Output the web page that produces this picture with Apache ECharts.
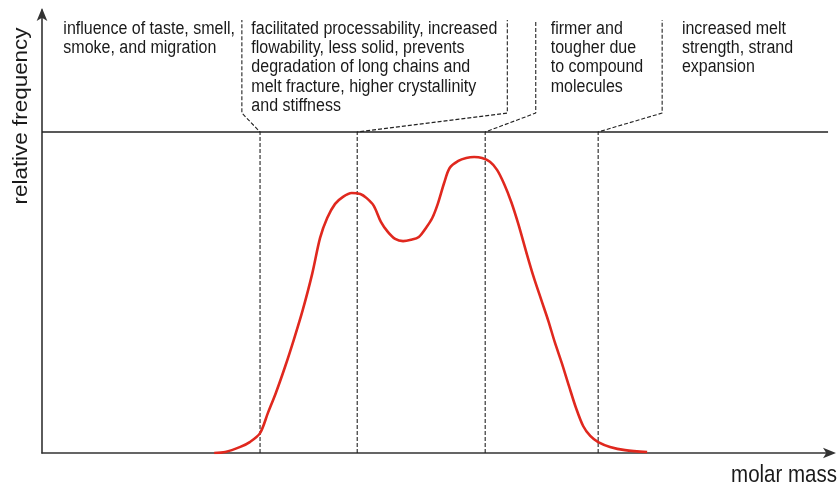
<!DOCTYPE html>
<html><head><meta charset="utf-8">
<script src="https://cdn.jsdelivr.net/npm/echarts@6/dist/echarts.min.js"></script>
<style>html,body{margin:0;padding:0;background:#fff}#c{width:839px;height:483px}</style>
</head><body><div id="c"></div>
<script>
// molar mass (arbitrary units 0-100) and relative frequency (top reference line = 100)
const molarMass = [21.8,23.2,25.1,26.3,27.6,28.6,29.6,30.8,31.9,33.0,34.2,35.2,36.1,37.1,38.1,39.2,40.3,41.1,42.0,42.9,43.8,44.7,45.7,46.7,47.7,48.6,49.4,50.1,50.9,51.6,52.7,53.7,54.7,55.7,56.7,57.6,58.5,59.4,60.3,61.3,62.2,63.2,64.1,64.9,65.8,66.7,67.6,68.5,69.4,70.4,71.9,73.8,76.6];
const frequency = [0.0,0.3,1.9,3.4,6.2,12.5,18.7,27.1,35.5,44.5,55.8,67.0,73.2,77.6,79.8,81.0,80.7,79.4,77.0,72.0,68.8,66.7,66.0,66.4,67.3,70.1,73.2,77.6,84.1,88.8,91.0,91.9,92.2,91.9,90.7,88.2,83.8,78.2,71.3,62.6,55.1,47.7,41.1,34.6,28.0,20.9,14.0,8.4,5.3,3.4,1.9,0.9,0.3];
// region boundaries on molar mass axis, and where their label dividers sit
const boundaries = [27.6,39.9,56.1,70.4];
const dividerX = [25.3,58.9,62.5,78.5];
const topLine = 100, dividerBend = 105.9, dividerTop = 134.9;
const labelX = [2.7,26.5,64.4,81.0];
const labelY = 135.2;
const labels = [
  "influence of taste, smell,\nsmoke, and migration",
  "facilitated processability, increased\nflowability, less solid, prevents\ndegradation of long chains and\nmelt fracture, higher crystallinity\nand stiffness",
  "firmer and\ntougher due\nto compound\nmolecules",
  "increased melt\nstrength, strand\nexpansion"
];
const xMax = 100, yMax = 138;

const chart = echarts.init(document.getElementById('c'), null, {renderer:'canvas'});
const FONT = 'Liberation Sans, Arial, sans-serif';
const TXT = '#1a1a1a';
const STRETCH = 1.15;
const series = [];
series.push({type:'line', data:[[0,topLine],[99.5,topLine]], symbol:'none', silent:true,
  lineStyle:{color:'#222', width:1.3}, z:2});
boundaries.forEach((b,i)=>{
  series.push({type:'line', symbol:'none', silent:true,
    data:[[b,0],[b,topLine],[dividerX[i],dividerBend],[dividerX[i],dividerTop]],
    lineStyle:{color:'#222', width:1.1, type:[4,2]}, z:2});
});
series.push({type:'line', data:molarMass.map((x,i)=>[x,frequency[i]]), smooth:0.3, symbol:'none',
  lineStyle:{color:'#e0281e', width:2.6}, z:5});

chart.setOption({
  animation:false,
  grid:{left:42, right:7, top:10, bottom:30},
  xAxis:{type:'value', min:0, max:xMax, axisLine:{show:true, lineStyle:{color:'#333', width:1.6}, symbol:['none','arrow'], symbolSize:[8,13], symbolOffset:[0,4]},
    axisTick:{show:false}, axisLabel:{show:false}, splitLine:{show:false}},
  yAxis:{type:'value', min:0, max:yMax, axisLine:{show:true, lineStyle:{color:'#333', width:1.6}, symbol:['none','arrow'], symbolSize:[8,13], symbolOffset:[0,2]},
    axisTick:{show:false}, axisLabel:{show:false}, splitLine:{show:false}},
  series:series
});

const g = labelX.map((x,i)=>{
  const p = chart.convertToPixel({gridIndex:0}, [x,labelY]);
  return {type:'text', x:p[0], y:p[1], scaleY:STRETCH, silent:true,
    style:{text:labels[i], font:'16px '+FONT, fill:TXT, textAlign:'left', textVerticalAlign:'top', lineHeight:19.3/STRETCH}};
});
g.push({type:'text', x:21.5, y:116, rotation:Math.PI/2, scaleX:STRETCH, silent:true,
  style:{text:'relative frequency', font:'19.5px '+FONT, fill:TXT, textAlign:'center', textVerticalAlign:'middle'}});
g.push({type:'text', x:837, y:475, scaleY:STRETCH, silent:true,
  style:{text:'molar mass', font:'20.5px '+FONT, fill:TXT, textAlign:'right', textVerticalAlign:'middle'}});
chart.setOption({graphic:g});
</script></body></html>
